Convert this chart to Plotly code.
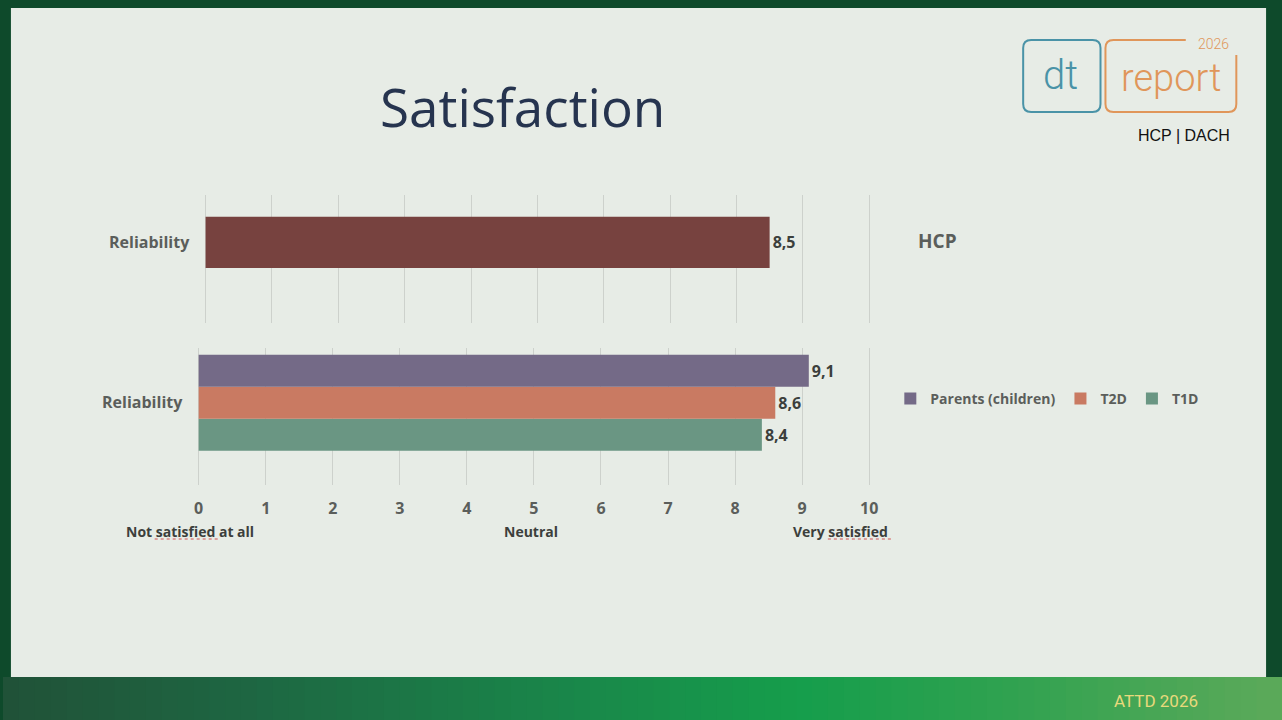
import plotly.graph_objects as go

W, H = 1282, 720

# data
hcp_category = ["Reliability"]
hcp_value = [8.5]

patient_category = ["Reliability"]
groups = ["T1D", "T2D", "Parents (children)"]
group_values = [8.4, 8.6, 9.1]
group_colors = ["#6A9683", "#C97A62", "#746A87"]

x_ticks = list(range(0, 11))
scale_labels = ["Not satisfied at all", "Neutral", "Very satisfied"]
scale_label_pos = [189, 533, 845]


def px(x):
    return x / W


def py(y):
    return 1 - y / H


GRAY = "#5B5E5B"
DARK = "#3C3F3C"
FONT = "Open Sans"

fig = go.Figure()

fig.add_trace(go.Bar(
    y=hcp_category, x=hcp_value, orientation="h",
    marker=dict(color="#77423F", line=dict(width=0)),
    width=0.4, showlegend=False,
    texttemplate="<b>%{x:.1f}</b>", textposition="outside",
    textfont=dict(size=16, color=DARK, family=FONT),
    cliponaxis=False, xaxis="x", yaxis="y",
))

for name, val, col in zip(groups, group_values, group_colors):
    fig.add_trace(go.Bar(
        y=patient_category, x=[val], orientation="h", name=name,
        marker=dict(color=col, line=dict(width=0)),
        texttemplate="<b>%{x:.1f}</b>", textposition="outside",
        textfont=dict(size=16, color=DARK, family=FONT),
        cliponaxis=False, xaxis="x2", yaxis="y2",
    ))

grid = dict(showgrid=True, gridcolor="#CDD1CC", gridwidth=1, zeroline=False,
            showline=False, tick0=0, dtick=1, range=[-0.02, 10.02])
tickfont = dict(size=16, color=GRAY, family=FONT, weight="bold")

fig.update_layout(
    width=W, height=H, autosize=False,
    margin=dict(l=0, r=0, t=0, b=0),
    paper_bgcolor="#0E4A2B",
    plot_bgcolor="rgba(0,0,0,0)",
    separators=",.",
    barmode="group", bargap=0.3, bargroupgap=0,
    font=dict(family=FONT, color=GRAY),
    xaxis=dict(domain=[px(203), px(875)], anchor="y", showticklabels=False, **grid),
    yaxis=dict(domain=[py(323), py(195)], anchor="x", range=[-0.63, 0.37],
               showgrid=False, zeroline=False, ticklabelstandoff=14, tickfont=tickfont),
    xaxis2=dict(domain=[px(196), px(875)], anchor="y2", tickvals=x_ticks,
                ticks="", ticklabelstandoff=12, tickfont=tickfont, **grid),
    yaxis2=dict(domain=[py(485), py(348)], anchor="x2", range=[-0.6, 0.4],
                showgrid=False, zeroline=False, ticklabelstandoff=14, tickfont=tickfont),
    legend=dict(orientation="h", x=px(895), y=py(399), xanchor="left", yanchor="middle",
                traceorder="reversed", bgcolor="rgba(0,0,0,0)",
                font=dict(size=14, color=GRAY, family=FONT, weight="bold"),
                itemwidth=30, tracegroupgap=0),
)

shapes = []
# slide background
shapes.append(dict(type="rect", xref="paper", yref="paper", x0=px(8), x1=px(1274),
                   y0=py(677), y1=py(8), fillcolor="#E7ECE6", line=dict(width=0), layer="below"))

# bottom band, smooth left-to-right gradient
stops = [(0, (0x21, 0x52, 0x38)), (260, (0x1E, 0x68, 0x43)), (560, (0x1A, 0x86, 0x4A)),
         (800, (0x16, 0x9E, 0x4C)), (1000, (0x2E, 0xA2, 0x50)), (1282, (0x5C, 0xAA, 0x5A))]
step = 16
for x0 in range(0, W, step):
    xm = x0 + step / 2
    for (a, ca), (b, cb) in zip(stops[:-1], stops[1:]):
        if a <= xm <= b:
            t = (xm - a) / (b - a)
            c = tuple(int(ca[i] + (cb[i] - ca[i]) * t) for i in range(3))
            break
    shapes.append(dict(type="rect", xref="paper", yref="paper", x0=px(x0), x1=px(x0 + step + 1),
                       y0=0, y1=py(677), fillcolor="rgb(%d,%d,%d)" % c, line=dict(width=0),
                       layer="below"))


def rounded(x0, y0, x1, y1, r):
    return (f"M {px(x0 + r)},{py(y0)} L {px(x1 - r)},{py(y0)} "
            f"Q {px(x1)},{py(y0)} {px(x1)},{py(y0 + r)} L {px(x1)},{py(y1 - r)} "
            f"Q {px(x1)},{py(y1)} {px(x1 - r)},{py(y1)} L {px(x0 + r)},{py(y1)} "
            f"Q {px(x0)},{py(y1)} {px(x0)},{py(y1 - r)} L {px(x0)},{py(y0 + r)} "
            f"Q {px(x0)},{py(y0)} {px(x0 + r)},{py(y0)} Z")


shapes.append(dict(type="path", xref="paper", yref="paper", path=rounded(1029, 40, 1107, 112, 8),
                   line=dict(color="#4A93A7", width=2)))
r = 8
report_path = (f"M {px(1193)},{py(40)} L {px(1112 + r)},{py(40)} "
               f"Q {px(1112)},{py(40)} {px(1112)},{py(40 + r)} L {px(1112)},{py(112 - r)} "
               f"Q {px(1112)},{py(112)} {px(1112 + r)},{py(112)} L {px(1244 - r)},{py(112)} "
               f"Q {px(1244)},{py(112)} {px(1244)},{py(112 - r)} L {px(1244)},{py(55)}")
shapes.append(dict(type="path", xref="paper", yref="paper", path=report_path,
                   line=dict(color="#E0965A", width=2)))

# spell-check squiggles under "satisfied"
for x0, x1 in [(153, 219), (832, 897)]:
    shapes.append(dict(type="line", xref="paper", yref="paper", x0=px(x0), x1=px(x1),
                       y0=py(539), y1=py(539), line=dict(color="#D05050", width=1, dash="dot")))
fig.update_layout(shapes=shapes)

ann = []


def text(x, y, s, size, color, family=FONT, weight="normal", xanchor="center"):
    ann.append(dict(x=px(x), y=py(y), xref="paper", yref="paper", text=s, showarrow=False,
                    xanchor=xanchor, yanchor="middle",
                    font=dict(size=size, color=color, family=family, weight=weight)))


text(524, 106, "Satisfaction", 53, "#26344F")
text(1067, 76, "dt", 40, "#4A93A7", family="Roboto", weight=300)
text(1178, 78, "report", 38, "#E0965A", family="Roboto", weight=300)
text(1221, 44, "2026", 14, "#E0965A", family="Roboto", weight=300)
text(1191, 135, "HCP | DACH", 16, "#111111", family="Liberation Sans")
text(943, 241, "HCP", 19, GRAY, weight="bold")
for s, x in zip(scale_labels, scale_label_pos):
    text(x, 531, s, 14, DARK, weight="bold")
text(1163, 701, "ATTD 2026", 17, "#E8D97C", family="Roboto")
fig.update_layout(annotations=ann)

fig.write_html(
    "out.html",
    config={"displayModeBar": False, "responsive": False},
    post_script="document.body.style.margin='0';"
                "document.body.style.overflow='hidden';",
)
